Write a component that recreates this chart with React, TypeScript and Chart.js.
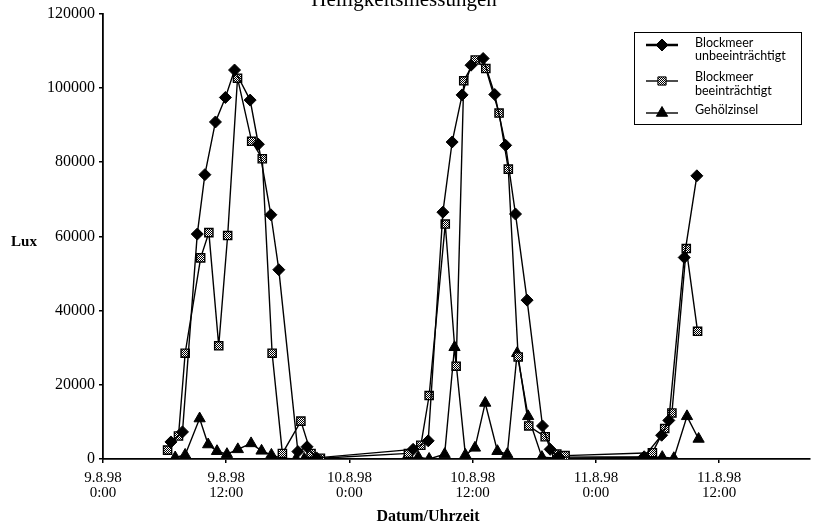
import React, { useEffect, useRef } from 'react';
import { Chart, registerables } from 'chart.js';

Chart.register(...registerables);

// ---------- data ----------
const TITLE = 'Helligkeitsmessungen';
const X_TITLE = 'Datum/Uhrzeit';
const Y_TITLE = 'Lux';

// x values are hours since 9.8.98 0:00
const X_TICKS = [0, 12, 24, 36, 48, 60];
const X_TICK_LABELS = [
  ['9.8.98', '0:00'],
  ['9.8.98', '12:00'],
  ['10.8.98', '0:00'],
  ['10.8.98', '12:00'],
  ['11.8.98', '0:00'],
  ['11.8.98', '12:00'],
];
const X_MIN = 0;
const X_MAX = 68.8;
const Y_TICKS = [0, 20000, 40000, 60000, 80000, 100000, 120000];

const SERIES_LABELS = ['Blockmeer\nunbeeinträchtigt', 'Blockmeer\nbeeinträchtigt', 'Gehölzinsel'];

// Blockmeer unbeeinträchtigt (diamonds)
const T1 = [6.62, 7.74, 9.18, 9.92, 10.95, 11.92, 12.81, 14.33, 15.13, 16.35, 17.12, 18.98, 19.87, 20.8,
  30.2, 31.67, 33.1, 34.0, 34.97, 35.84, 37.02, 38.15, 39.21, 40.17, 41.3, 42.8, 43.55, 44.4,
  52.7, 54.4, 55.1, 56.6, 57.83];
const V1 = [4600, 7300, 60600, 76600, 90800, 97400, 104800, 96700, 84800, 65800, 51000, 2000, 3300, 300,
  2600, 4900, 66500, 85400, 98100, 106100, 107900, 98200, 84500, 66000, 42800, 8900, 2600, 500,
  600, 6400, 10400, 54300, 76300];

// Blockmeer beeinträchtigt (checkered squares)
const T2 = [6.29, 7.35, 8.0, 9.51, 10.31, 11.27, 12.14, 13.1, 14.48, 15.51, 16.47, 17.47, 19.27, 20.26, 21.17,
  29.74, 30.95, 31.76, 33.33, 34.39, 35.13, 36.25, 37.28, 38.57, 39.47, 40.43, 41.46, 43.06, 44.19, 45.0,
  53.5, 54.7, 55.4, 56.8, 57.9];
const V2 = [2400, 6200, 28500, 54200, 61000, 30500, 60200, 102600, 85600, 80900, 28500, 1500, 10200, 1500, 200,
  1500, 3700, 17100, 63300, 25000, 101900, 107500, 105200, 93200, 78100, 27500, 8900, 6000, 1300, 900,
  1700, 8200, 12400, 56700, 34400];

// Gehölzinsel (triangles)
const T3 = [7.03, 8.0, 9.41, 10.24, 11.1, 12.07, 13.13, 14.42, 15.44, 16.4, 17.37, 18.8, 19.6,
  29.5, 30.7, 31.76, 33.27, 34.23, 35.29, 36.22, 37.22, 38.41, 39.37, 40.33, 41.4, 42.74, 44.35,
  54.46, 55.59, 56.87, 58.0];
const V3 = [400, 1100, 10900, 3900, 2100, 1300, 2600, 4200, 2200, 1100, 200, 0, 0,
  0, 500, 0, 1300, 30100, 1100, 3000, 15100, 2100, 1300, 28500, 11500, 500, 200,
  500, 200, 11500, 5400];

const toPoints = (t: number[], v: number[]) => t.map((x, i) => ({ x, y: v[i] }));

function makeChecker(): CanvasPattern | string {
  const c = document.createElement('canvas');
  c.width = 2;
  c.height = 2;
  const g = c.getContext('2d');
  if (!g) return '#999';
  g.fillStyle = '#fff';
  g.fillRect(0, 0, 2, 2);
  g.fillStyle = '#000';
  g.fillRect(0, 0, 1, 1);
  g.fillRect(1, 1, 1, 1);
  const p = g.createPattern(c, 'repeat');
  return p || '#999';
}

function drawMarker(ctx: CanvasRenderingContext2D, style: string, x: number, y: number, r: number, fill: any) {
  ctx.beginPath();
  if (style === 'rectRot') {
    ctx.moveTo(x - r, y);
    ctx.lineTo(x, y - r);
    ctx.lineTo(x + r, y);
    ctx.lineTo(x, y + r);
  } else if (style === 'rect') {
    const s = r * Math.SQRT1_2;
    ctx.rect(x - s, y - s, 2 * s, 2 * s);
  } else {
    const h = r * Math.sin(Math.PI / 3);
    ctx.moveTo(x, y - r);
    ctx.lineTo(x + h, y + r / 2);
    ctx.lineTo(x - h, y + r / 2);
  }
  ctx.closePath();
  ctx.fillStyle = fill;
  ctx.fill();
  ctx.lineWidth = 1;
  ctx.strokeStyle = '#000';
  ctx.stroke();
}

const overlayPlugin = {
  id: 'overlay',
  afterDraw(chart: any) {
    const ctx: CanvasRenderingContext2D = chart.ctx;
    ctx.save();
    ctx.fillStyle = '#000';
    ctx.textAlign = 'center';
    ctx.textBaseline = 'alphabetic';
    ctx.font = '21px "Liberation Serif"';
    ctx.fillText(TITLE, 404, 6);
    ctx.textBaseline = 'middle';
    ctx.font = 'bold 16px "Liberation Serif"';
    ctx.fillText(X_TITLE, 428, 517);
    ctx.font = 'bold 15px "Liberation Serif"';
    ctx.fillText(Y_TITLE, 24, 242);

    // legend box
    const bx = 634, by = 32, bw = 167, bh = 92;
    ctx.fillStyle = '#fff';
    ctx.fillRect(bx, by, bw, bh);
    ctx.strokeStyle = '#000';
    ctx.lineWidth = 1;
    ctx.strokeRect(bx + 0.5, by + 0.5, bw, bh);

    const rowY = [45, 81, 113];
    const textY = [[43, 56], [77, 91], [110]];
    const lineW = [2.5, 1.4, 1.4];
    chart.data.datasets.forEach((ds: any, i: number) => {
      const y = rowY[i];
      ctx.beginPath();
      ctx.moveTo(646, y);
      ctx.lineTo(678, y);
      ctx.lineWidth = lineW[i];
      ctx.strokeStyle = '#000';
      ctx.stroke();
      drawMarker(ctx, ds.pointStyle, 662, y, ds.pointRadius, ds.pointBackgroundColor);
      ctx.fillStyle = '#000';
      ctx.textAlign = 'left';
      ctx.textBaseline = 'middle';
      ctx.font = '12.5px Lato';
      String(ds.label).split('\n').forEach((line: string, j: number) => {
        ctx.fillText(line, 695, textY[i][j]);
      });
    });
    ctx.restore();
  },
};

export default function App() {
  const ref = useRef<HTMLCanvasElement>(null);

  useEffect(() => {
    if (!ref.current) return;
    const checker = makeChecker();
    const base = {
      borderColor: '#000',
      borderWidth: 1.4,
      pointBorderColor: '#000',
      pointBorderWidth: 1,
      tension: 0,
      fill: false,
    };
    const chart = new Chart(ref.current, {
      type: 'line',
      data: {
        datasets: [
          {
            ...base,
            label: SERIES_LABELS[0],
            data: toPoints(T1, V1),
            pointStyle: 'rectRot',
            pointRadius: 6,
            pointBackgroundColor: '#000',
          },
          {
            ...base,
            label: SERIES_LABELS[1],
            data: toPoints(T2, V2),
            pointStyle: 'rect',
            pointRadius: 5.8,
            pointBorderWidth: 1.4,
            pointBackgroundColor: checker as any,
          },
          {
            ...base,
            label: SERIES_LABELS[2],
            data: toPoints(T3, V3),
            pointStyle: 'triangle',
            pointRadius: 6.5,
            pointBackgroundColor: '#000',
          },
        ] as any,
      },
      options: {
        animation: false,
        responsive: false,
        devicePixelRatio: 1,
        layout: { padding: { top: 12, right: 0, bottom: 0, left: 0 } },
        plugins: {
          legend: { display: false },
          tooltip: { enabled: false },
          title: { display: false },
        },
        scales: {
          x: {
            type: 'linear',
            min: X_MIN,
            max: X_MAX,
            afterFit: (s: any) => { s.height = 70; },
            afterBuildTicks: (s: any) => { s.ticks = X_TICKS.map((v) => ({ value: v })); },
            border: { display: true, color: '#000', width: 1.8 },
            grid: { display: true, drawOnChartArea: false, drawTicks: true, tickLength: 4, color: '#000', lineWidth: 1.5 },
            ticks: {
              color: '#000',
              padding: 8,
              maxRotation: 0,
              autoSkip: false,
              font: { family: '"Liberation Serif"', size: 15, lineHeight: 1 },
              callback: (value: any) => X_TICK_LABELS[X_TICKS.indexOf(Number(value))] as any,
            },
          },
          y: {
            type: 'linear',
            min: 0,
            max: 120000,
            afterFit: (s: any) => { s.width = 103; },
            afterBuildTicks: (s: any) => { s.ticks = Y_TICKS.map((v) => ({ value: v })); },
            border: { display: true, color: '#000', width: 1.8 },
            grid: { display: true, drawOnChartArea: false, drawTicks: true, tickLength: 4, color: '#000', lineWidth: 1.5 },
            ticks: {
              color: '#000',
              padding: 4,
              font: { family: '"Liberation Serif"', size: 16 },
              callback: (value: any) => String(value),
            },
          },
        },
      } as any,
      plugins: [overlayPlugin],
    });
    return () => chart.destroy();
  }, []);

  return (
    <div style={{ position: 'absolute', left: 0, top: 0, width: 817, height: 529, background: '#fff' }}>
      <canvas ref={ref} width={817} height={529} style={{ display: 'block', width: 817, height: 529 }} />
    </div>
  );
}
